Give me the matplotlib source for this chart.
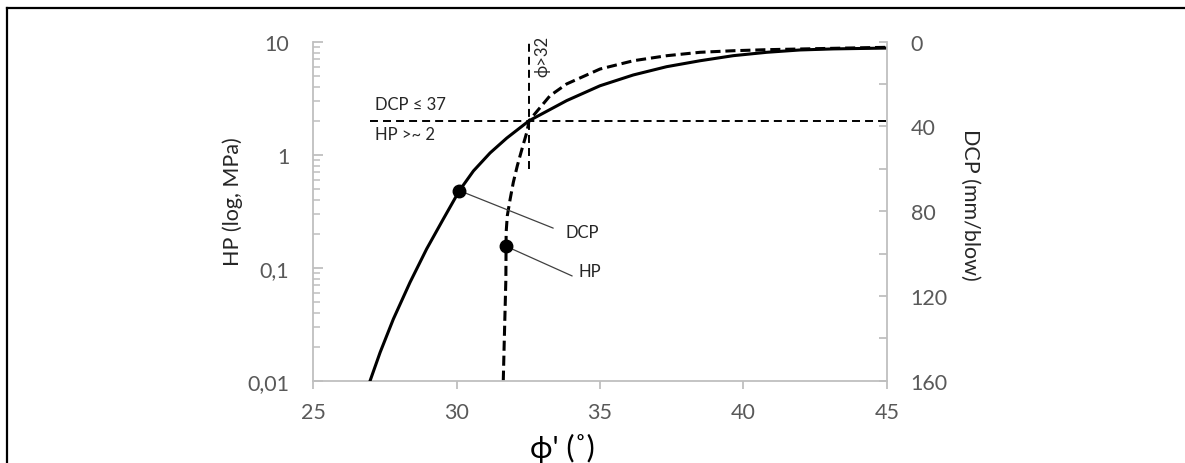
import matplotlib
matplotlib.use("Agg")
import matplotlib.pyplot as plt
from matplotlib.lines import Line2D
from matplotlib.ticker import FixedLocator, LogLocator, NullFormatter

plt.rcParams["font.family"] = ["Lato", "DejaVu Sans"]

# DCP curve (right axis, mm/blow, inverted)
phi_dcp = [26.99, 27.34, 27.80, 28.38, 28.96, 29.54, 30.10, 30.59, 31.17,
           31.75, 32.33, 32.53, 33.84, 35.0, 36.16, 37.32, 38.48, 39.64,
           40.81, 41.97, 43.13, 45.0]
dcp = [160, 146.6, 130.9, 113.6, 97.8, 83.7, 70.3, 61.0, 52.5,
       45.5, 39.4, 37.3, 27.8, 20.8, 15.7, 11.8, 9.0, 6.6,
       5.0, 3.9, 3.4, 3.0]

# HP curve (left axis, log MPa)
phi_hp = [31.63, 31.66, 31.69, 31.72, 31.73, 31.77, 31.87, 31.98, 32.12,
          32.28, 32.45, 32.53, 33.26, 33.84, 35.0, 36.17, 37.33, 38.49,
          39.65, 40.82, 43.14, 45.0]
hp = [0.010, 0.0204, 0.040, 0.079, 0.206, 0.288, 0.405, 0.570, 0.80,
      1.12, 1.58, 2.0, 3.33, 4.23, 5.73, 6.79, 7.52, 8.06,
      8.32, 8.50, 8.74, 8.92]

# marked points
dcp_mark = (30.10, 70.3)
hp_mark = (31.72, 0.155)

# threshold lines
hp_limit = 2.0
phi_limit = 32.53
hline_x = [27.0, 45.0]
vline_y = [0.75, 10.0]

x_ticks = [25, 30, 35, 40, 45]
left_ticks = [0.01, 0.1, 1, 10]
left_labels = ["0,01", "0,1", "1", "10"]
right_ticks = [0, 40, 80, 120, 160]
right_minor = [20, 60, 100, 140]

grey = "#bfbfbf"
tick_col = "#595959"
text_col = "#262626"

fig = plt.figure(figsize=(11.85, 4.64), dpi=100)
ax = fig.add_axes([313 / 1185, 1 - 381.7 / 464, 574 / 1185, 339 / 464])
ax2 = ax.twinx()

ax.set_xlim(25, 45)
ax.set_yscale("log")
ax.set_ylim(0.01, 10)
ax2.set_ylim(160, 0)

# curves
ax2.plot(phi_dcp, dcp, color="black", lw=2.2, solid_joinstyle="round")
ax.plot(phi_hp, hp, color="black", lw=2.2, linestyle=(0, (3.3, 1.6)))
ax.plot(hline_x, [hp_limit, hp_limit], color="black", lw=1.4,
        linestyle=(0, (4.1, 2.6)))
ax.plot([phi_limit, phi_limit], vline_y, color="black", lw=1.4,
        linestyle=(0, (4.1, 2.6)))

ax2.plot([dcp_mark[0]], [dcp_mark[1]], "o", color="black", markersize=9, zorder=5)
ax.plot([hp_mark[0]], [hp_mark[1]], "o", color="black", markersize=9, zorder=5)

# leader lines and labels
ax2.annotate("", xy=dcp_mark, xytext=(33.37, 0.224), textcoords=ax.transData,
             arrowprops=dict(arrowstyle="-", color="#404040", lw=0.9,
                             shrinkA=0, shrinkB=0))
ax.annotate("", xy=hp_mark, xytext=(34.03, 0.0845),
            arrowprops=dict(arrowstyle="-", color="#404040", lw=0.9,
                            shrinkA=0, shrinkB=0))
ax.text(33.79, 0.207, "DCP", fontsize=12, color=text_col, ha="left", va="center")
ax.text(34.24, 0.093, "HP", fontsize=12, color=text_col, ha="left", va="center")

ax.text(27.16, 2.81, "DCP \u2264 37", fontsize=12, color=text_col,
        ha="left", va="center")
ax.text(27.16, 1.52, "HP >~ 2", fontsize=12, color=text_col,
        ha="left", va="center")
ax.text(33.0, 7.6, "\u03d5>32", fontsize=12, color=text_col, rotation=90,
        ha="center", va="center")

# axes styling
for side in ["top", "right"]:
    ax.spines[side].set_visible(False)
for side in ["top", "left", "bottom"]:
    ax2.spines[side].set_visible(False)
ax.spines["left"].set_color(grey)
ax.spines["bottom"].set_color(grey)
ax2.spines["right"].set_color(grey)
for sp in [ax.spines["left"], ax.spines["bottom"], ax2.spines["right"]]:
    sp.set_linewidth(1.3)

ax.set_xticks(x_ticks)
ax.tick_params(axis="x", direction="out", length=6, width=1.3, color=grey,
               labelcolor=tick_col, labelsize=15.5, pad=9)

ax.yaxis.set_major_locator(FixedLocator(left_ticks))
ax.set_yticklabels(left_labels)
ax.yaxis.set_minor_locator(LogLocator(base=10, subs=range(2, 10)))
ax.yaxis.set_minor_formatter(NullFormatter())
ax.tick_params(axis="y", which="major", direction="in", length=7, width=1.3,
               color=grey, labelcolor=tick_col, labelsize=15.5, pad=17)
ax.tick_params(axis="y", which="minor", direction="in", length=5, width=1.1,
               color=grey)

ax2.yaxis.set_major_locator(FixedLocator(right_ticks))
ax2.yaxis.set_minor_locator(FixedLocator(right_minor))
ax2.tick_params(axis="y", which="major", direction="in", length=6, width=1.3,
                color=grey, labelcolor=tick_col, labelsize=15.5, pad=17)
ax2.tick_params(axis="y", which="minor", direction="in", length=6, width=1.3,
                color=grey)

# axis titles
fig.text(233 / 1185, 1 - 202 / 464, "HP (log, MPa)", rotation=90, fontsize=15.5,
         color=text_col, ha="center", va="center")
fig.text(970 / 1185, 1 - 205 / 464, "DCP (mm/blow)", rotation=270, fontsize=15.5,
         color=text_col, ha="center", va="center")
fig.text(562 / 1185, 1 - 448 / 464, "\u03d5' (\u02da)", fontsize=22,
         color="black", ha="center", va="center")

# frame lines at the image edge
fig.add_artist(Line2D([6.5 / 1185, 1.0], [1 - 8.5 / 464, 1 - 8.5 / 464],
                      color="black", lw=1.6))
fig.add_artist(Line2D([6.5 / 1185, 6.5 / 1185], [0.0, 1 - 8.5 / 464],
                      color="black", lw=1.6))

fig.savefig("out.png", dpi=100)
